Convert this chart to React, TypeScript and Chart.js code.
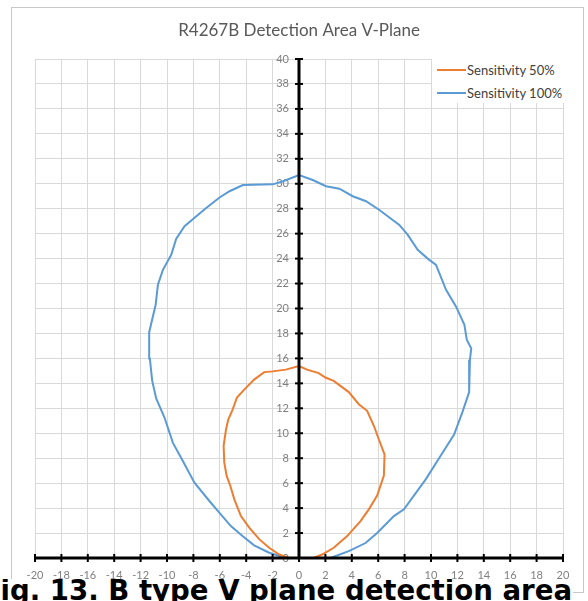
import React, { useEffect, useRef } from 'react';
import { Chart, registerables } from 'chart.js';

Chart.register(...registerables);

const chartTitle = 'R4267B Detection Area V-Plane';
const captionText = 'Fig. 13. B type V plane detection area';
const seriesNames = ['Sensitivity 50%', 'Sensitivity 100%'];
const seriesColors = ['#ED7D31', '#5B9BD5'];

const xTickValues = [-20, -18, -16, -14, -12, -10, -8, -6, -4, -2, 0, 2, 4, 6, 8, 10, 12, 14, 16, 18, 20];
const yTickValues = [0, 2, 4, 6, 8, 10, 12, 14, 16, 18, 20, 22, 24, 26, 28, 30, 32, 34, 36, 38, 40];

const sens50X = [-0.74, -1.5, -2.26, -3.0, -3.77, -4.4, -4.9, -5.2, -5.48, -5.66, -5.71, -5.53, -5.36, -5.03, -4.7, -4.15, -3.4, -2.64, -2.0, -1.0, 0, 0.61, 1.49, 2.0, 2.63, 3.77, 4.53, 5.16, 5.67, 6.05, 6.48, 6.43, 5.92, 5.29, 4.66, 3.65, 2.63, 1.75, 1.1];
const sens50Y = [0, 0.28, 0.82, 1.49, 2.43, 3.36, 4.7, 5.77, 6.58, 7.65, 9.0, 10.3, 11.1, 11.9, 12.87, 13.5, 14.3, 14.9, 14.96, 15.1, 15.38, 15.1, 14.82, 14.47, 14.2, 13.3, 12.33, 11.8, 10.6, 9.5, 8.3, 6.6, 5.0, 3.9, 2.96, 1.76, 0.82, 0.28, 0];

const sens100X = [-1.0, -2.26, -3.4, -4.28, -5.16, -6.04, -6.79, -7.92, -8.8, -9.56, -10.19, -10.82, -11.12, -11.3, -11.35, -10.86, -10.69, -10.31, -9.68, -9.3, -8.67, -7.78, -7.03, -6.02, -5.26, -4.25, -2.0, -1.2, 0, 1.04, 2.05, 3.06, 4.07, 5.08, 6.09, 7.6, 8.24, 8.99, 9.75, 10.38, 11.14, 11.9, 12.53, 12.71, 13.05, 12.95, 12.89, 12.38, 11.75, 10.73, 9.6, 7.95, 7.19, 5.92, 5.04, 3.77, 2.38];
const sens100Y = [0, 0.42, 1.01, 1.76, 2.56, 3.63, 4.57, 6.04, 7.78, 9.25, 11.26, 12.8, 14.2, 16.0, 18.1, 20.3, 21.9, 23.1, 24.3, 25.6, 26.6, 27.4, 28.05, 28.9, 29.4, 29.9, 29.95, 30.2, 30.7, 30.3, 29.8, 29.6, 29.0, 28.6, 27.9, 26.7, 25.9, 24.7, 24.0, 23.5, 21.5, 20.15, 18.7, 17.5, 16.8, 15.9, 13.3, 11.7, 9.9, 8.2, 6.3, 3.9, 3.36, 2.0, 1.2, 0.55, 0];

const toPoints = (xs: number[], ys: number[]) => xs.map((x, i) => ({ x, y: ys[i] }));

const tickFont = { family: 'Lato', size: 11 };
const tickColor = '#808080';

const axesPlugin = {
  id: 'centerAxes',
  beforeDatasetsDraw(chart: any) {
    const { ctx } = chart;
    const xs = chart.scales.x;
    const ys = chart.scales.y;
    const x0 = xs.getPixelForValue(0);
    ctx.save();
    ctx.fillStyle = tickColor;
    ctx.font = `${tickFont.size}px ${tickFont.family}`;
    ctx.textAlign = 'right';
    ctx.textBaseline = 'middle';
    ys.ticks.forEach((t: any) => {
      ctx.fillText(String(t.label ?? t.value), x0 - 10, ys.getPixelForValue(t.value));
    });
    ctx.restore();
  },
  afterDatasetsDraw(chart: any) {
    const { ctx } = chart;
    const xs = chart.scales.x;
    const ys = chart.scales.y;
    const x0 = xs.getPixelForValue(0);
    const y0 = ys.getPixelForValue(0);
    ctx.save();
    ctx.strokeStyle = '#000000';
    ctx.lineCap = 'butt';
    ctx.lineWidth = 3;
    ctx.beginPath();
    ctx.moveTo(x0, ys.getPixelForValue(ys.max));
    ctx.lineTo(x0, y0);
    ctx.stroke();
    ctx.beginPath();
    ctx.moveTo(xs.getPixelForValue(xs.min), y0);
    ctx.lineTo(xs.getPixelForValue(xs.max), y0);
    ctx.stroke();
    ctx.lineWidth = 2;
    ys.ticks.forEach((t: any) => {
      const p = ys.getPixelForValue(t.value);
      ctx.beginPath();
      ctx.moveTo(x0 - 4, p);
      ctx.lineTo(x0 + 4, p);
      ctx.stroke();
    });
    xs.ticks.forEach((t: any) => {
      const p = xs.getPixelForValue(t.value);
      ctx.beginPath();
      ctx.moveTo(p, y0 - 4);
      ctx.lineTo(p, y0 + 4);
      ctx.stroke();
    });
    ctx.restore();
  },
};

export default function App() {
  const canvasRef = useRef<HTMLCanvasElement | null>(null);

  useEffect(() => {
    if (!canvasRef.current) return;
    const chart = new Chart(canvasRef.current, {
      type: 'scatter',
      data: {
        datasets: [
          {
            label: seriesNames[0],
            data: toPoints(sens50X, sens50Y),
            showLine: true,
            borderColor: seriesColors[0],
            backgroundColor: seriesColors[0],
            borderWidth: 2,
            pointRadius: 0,
            tension: 0,
          },
          {
            label: seriesNames[1],
            data: toPoints(sens100X, sens100Y),
            showLine: true,
            borderColor: seriesColors[1],
            backgroundColor: seriesColors[1],
            borderWidth: 2,
            pointRadius: 0,
            tension: 0,
          },
        ],
      },
      options: {
        responsive: false,
        animation: false,
        devicePixelRatio: 1,
        layout: { padding: { left: 35, right: 25, top: 0, bottom: 0 } },
        plugins: {
          legend: { display: false },
          tooltip: { enabled: false },
          title: {
            display: true,
            text: chartTitle,
            color: '#595959',
            font: { family: 'Lato', size: 17, weight: 'normal' },
            padding: { top: 20, bottom: 18.6 },
          },
        },
        scales: {
          x: {
            type: 'linear',
            position: 'bottom',
            min: -20,
            max: 20,
            afterBuildTicks: (s: any) => {
              s.ticks = xTickValues.map((v) => ({ value: v }));
            },
            afterFit: (s: any) => {
              s.height = 43;
            },
            grid: { color: '#d9d9d9', lineWidth: 1, drawTicks: false },
            border: { display: false },
            ticks: { color: tickColor, font: tickFont, padding: 11, maxRotation: 0, autoSkip: false },
          },
          y: {
            type: 'linear',
            position: { x: 0 },
            min: 0,
            max: 40,
            afterBuildTicks: (s: any) => {
              s.ticks = yTickValues.map((v) => ({ value: v }));
            },
            afterFit: (s: any) => {
              s.width = 0;
            },
            grid: { color: '#d9d9d9', lineWidth: 1, drawTicks: false },
            border: { display: false },
            ticks: { display: false, autoSkip: false },
          },
        },
      } as any,
      plugins: [axesPlugin],
    });
    return () => chart.destroy();
  }, []);

  return (
    <div style={{ position: 'absolute', left: 0, top: 0, width: 588, height: 601, overflow: 'hidden', background: '#ffffff' }}>
      <div style={{ position: 'absolute', left: 11, top: 7, width: 571, height: 584, border: '1px solid #c8c8c8' }} />
      <canvas ref={canvasRef} width={588} height={601} style={{ position: 'absolute', left: 0, top: 0, width: 588, height: 601 }} />
      <div style={{ position: 'absolute', left: 432, top: 57, width: 150, height: 46, background: '#ffffff', fontFamily: 'Lato', fontSize: 13, color: '#404040' }}>
        {seriesNames.map((name, i) => (
          <div key={name} style={{ position: 'absolute', left: 0, top: 4 + i * 23, height: 18, width: 150 }}>
            <div style={{ position: 'absolute', left: 5, top: 8, width: 29, height: 2, background: seriesColors[i] }} />
            <div style={{ position: 'absolute', left: 35, top: 0, lineHeight: '18px', whiteSpace: 'nowrap' }}>{name}</div>
          </div>
        ))}
      </div>
      <div style={{ position: 'absolute', left: 0, top: 579, width: 573, height: 22, background: '#ffffff', overflow: 'hidden' }}>
        <span style={{ position: 'absolute', left: -18.4, top: -2.5, fontFamily: 'DejaVu Sans', fontWeight: 'bold', fontSize: 27.6, lineHeight: '27.6px', color: '#000000', whiteSpace: 'nowrap' }}>{captionText}</span>
      </div>
    </div>
  );
}
